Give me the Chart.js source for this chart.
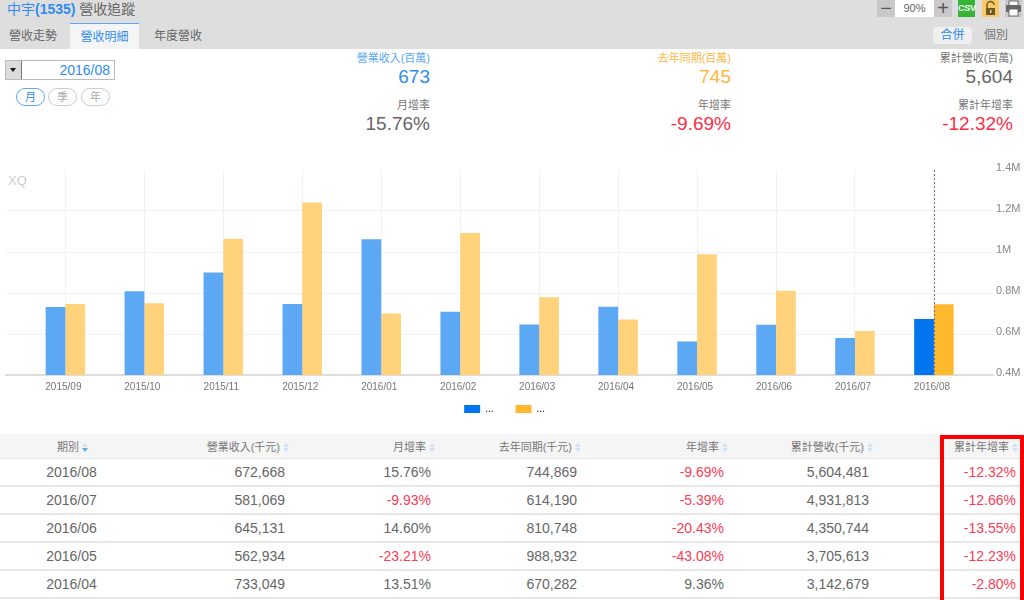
<!DOCTYPE html>
<html lang="zh-Hant">
<head>
<meta charset="UTF-8">
<title>中宇(1535) 營收追蹤</title>
<script src="https://cdn.jsdelivr.net/npm/chart.js"></script>
<style>
  html, body { margin: 0; padding: 0; background: #fff; width: 1024px; height: 600px; overflow: hidden; }
  body { font-family: "Liberation Sans", Arial, "Noto Sans CJK TC", sans-serif; color: #555; position: relative; }
  .abs { position: absolute; white-space: nowrap; }
  #head { left: 0; top: 0; width: 1024px; height: 49px; background: #dedede; }
  .tab { font-size: 12px; line-height: 26px; color: #666; }
  .tab.on { left: 70px; top: 23px; width: 69px; height: 25px; background: #f5f5f5; border-top: 1px solid #5ba8f5; color: #2f8cf0; text-align: center; }
  .btn { top: 0; height: 17px; line-height: 17px; text-align: center; font-size: 11px; }
  .pill { top: 88px; width: 27px; height: 16px; line-height: 16px; border: 1px solid #ccc; border-radius: 9px; text-align: center; font-size: 11px; color: #aaa; }
  .pill.on { border-color: #5ba8f5; color: #2f8cf0; }
  .kl { font-size: 11px; line-height: 14px; color: #777; text-align: right; }
  .kv { font-size: 19px; line-height: 24px; text-align: right; color: #666; }
  .red { color: #ff3b55 !important; }
  #wrap { left: 0; top: 150px; width: 1024px; height: 289px; }
  table { position: absolute; left: 0; top: 434px; width: 1024px; border-collapse: separate; border-spacing: 0; table-layout: fixed; background: #fff; }
  th { height: 24px; background: #f5f5f5; font-weight: normal; font-size: 11px; color: #777; text-align: right; padding: 0; border-bottom: 1px solid #e8e8e8; }
  td { height: 26px; font-size: 14px; color: #666; text-align: right; padding: 0 5px 0 0; border-bottom: 2px solid #e8e8e8; }
  th:first-child { padding-right: 54px; }
  th:last-child { padding-right: 5px; }
  td:first-child { text-align: center; padding-right: 0; }
  td:last-child { padding-right: 8px; }
  .sort { display: inline-block; width: 7px; height: 9px; margin-left: 3px; position: relative; vertical-align: -1px; }
  .sort::before, .sort::after { content: ""; position: absolute; left: 0; border-left: 3px solid transparent; border-right: 3px solid transparent; }
  .sort::before { top: 0; border-bottom: 4px solid #cfe2f6; }
  .sort::after { bottom: 0; border-top: 4px solid #cfe2f6; }
  .sort.active::after { border-top-color: #5ba8f5; }
  #frame { left: 940px; top: 435px; width: 76px; height: 170px; border: 4px solid #f00; }
</style>
</head>
<body>
<div id="head" class="abs"></div>
<div class="abs" style="left:7px;top:0;font-size:14px;line-height:18px;color:#666"><span style="color:#2f8cf0">中宇<b>(1535)</b></span> 營收追蹤</div>
<div class="abs tab" style="left:9px;top:23px">營收走勢</div>
<div class="abs tab on">營收明細</div>
<div class="abs tab" style="left:154px;top:23px">年度營收</div>

<div class="abs btn" style="left:877px;width:18px;background:#c9c9c9;font-size:20px;color:#555">&minus;</div>
<div class="abs btn" style="left:895px;width:39px;background:#fff;color:#666">90%</div>
<div class="abs btn" style="left:934px;width:18px;background:#c9c9c9;font-size:20px;color:#555">+</div>
<div class="abs btn" style="left:958px;width:17px;background:#35b535;color:#fff;font-size:9px;font-weight:bold;letter-spacing:-0.300px">CSV</div>
<div class="abs btn" style="left:982px;width:17px;background:#fbc867">
  <svg width="17" height="17"><path d="M5 8V5a3.500 3.500 0 0 1 7 0" fill="none" stroke="#6b5a2a" stroke-width="1.400"/><rect x="4" y="8" width="9" height="7" fill="#6b5a2a"/><rect x="8" y="10" width="1.500" height="3" fill="#fbc867"/></svg>
</div>
<div class="abs btn" style="left:1005px;width:17px;background:#c9c9c9">
  <svg width="17" height="17"><rect x="4" y="1" width="9" height="5" fill="#fff" stroke="#666"/><rect x="1" y="5" width="15" height="7" rx="1" fill="#666"/><rect x="4" y="9" width="9" height="7" fill="#fff" stroke="#666"/></svg>
</div>
<div class="abs" style="left:933px;top:27px;width:39px;height:17px;line-height:17px;background:#f0f0f0;border-radius:4px;text-align:center;font-size:12px;color:#2f8cf0">合併</div>
<div class="abs" style="left:984px;top:27px;height:17px;line-height:17px;font-size:12px;color:#777">個別</div>

<div class="abs" style="left:5px;top:60px;width:108px;height:18px;border:1px solid #bbb;line-height:18px;font-size:14px;color:#2f8cf0;text-align:right"><span style="padding-right:4px">2016/08</span></div>
<div class="abs" style="left:6px;top:61px;width:15px;height:18px;background:#dcdcdc;border-right:1px solid #777"></div>
<div class="abs" style="left:10px;top:68px;width:0;height:0;border-left:3px solid transparent;border-right:3px solid transparent;border-top:4px solid #111"></div>
<div class="abs pill on" style="left:16px">月</div>
<div class="abs pill" style="left:48px">季</div>
<div class="abs pill" style="left:81px">年</div>

<div id="kpis"></div>

<div id="wrap" class="abs"><canvas id="revenue-chart"></canvas></div>
<div class="abs" style="left:8px;top:173px;font-size:13px;color:#ccc">XQ</div>

<table id="detail"></table>
<div id="frame" class="abs"></div>

<script>
// monthly revenue in thousands, the last five come from the table
const months = ['2015/09', '2015/10', '2015/11', '2015/12', '2016/01', '2016/02', '2016/03', '2016/04', '2016/05', '2016/06', '2016/07', '2016/08'];
const revenue = [732000, 808000, 900000, 746000, 1062000, 709000, 645800, 733049, 562934, 645131, 581069, 672668];
const lastYear = [746000, 750000, 1065000, 1242000, 700000, 1093000, 779000, 670282, 988932, 810748, 614190, 744869];
const axisTicks = [400000, 600000, 800000, 1000000, 1200000, 1400000];

// table rows
const periods = ['2016/08', '2016/07', '2016/06', '2016/05', '2016/04'];
const monthRates = ['15.76%', '-9.93%', '14.60%', '-23.21%', '13.51%'];
const yearRates = ['-9.69%', '-5.39%', '-20.43%', '-43.08%', '9.36%'];
const cumulative = ['5,604,481', '4,931,813', '4,350,744', '3,705,613', '3,142,679'];
const cumulativeRates = ['-12.32%', '-12.66%', '-13.55%', '-12.23%', '-2.80%'];
const columns = ['期別', '營業收入(千元)', '月增率', '去年同期(千元)', '年增率', '累計營收(千元)', '累計年增率'];
const columnWidths = [143, 147, 146, 146, 147, 145, 150];

// summary figures
const kpiRows = [
  { right: 594, top: 51, label: '營業收入(百萬)', value: '673', color: '#2f8cf0', labelColor: '#5ba8f5' },
  { right: 293, top: 51, label: '去年同期(百萬)', value: '745', color: '#ffb83f', labelColor: '#ffb83f' },
  { right: 11, top: 51, label: '累計營收(百萬)', value: '5,604' },
  { right: 594, top: 98, label: '月增率', value: '15.76%' },
  { right: 293, top: 98, label: '年增率', value: '-9.69%', color: '#ff2d46' },
  { right: 11, top: 98, label: '累計年增率', value: '-12.32%', color: '#ff2d46' }
];

const kpis = document.getElementById('kpis');
kpiRows.forEach(k => {
  kpis.insertAdjacentHTML('beforeend',
    `<div class="abs kl" style="right:${k.right}px;top:${k.top}px;color:${k.labelColor || '#777'}">${k.label}</div>` +
    `<div class="abs kv" style="right:${k.right}px;top:${k.top + 14}px;color:${k.color || '#666'}">${k.value}</div>`);
});

// Build the table from the arrays
function rateCell(text) {
  return `<td${text.startsWith('-') ? ' class="red"' : ''}>${text}</td>`;
}
function money(v) {
  return v.toLocaleString('en-US');
}
let html = '<colgroup>' + columnWidths.map(w => `<col style="width:${w}px">`).join('') + '</colgroup><tr>';
columns.forEach((c, i) => {
  html += `<th>${c}<span class="sort${i === 0 ? ' active' : ''}"></span></th>`;
});
html += '</tr>';
periods.forEach((p, i) => {
  const m = months.indexOf(p);
  html += `<tr><td>${p}</td><td>${money(revenue[m])}</td>${rateCell(monthRates[i])}<td>${money(lastYear[m])}</td>` +
    `${rateCell(yearRates[i])}<td>${cumulative[i]}</td>${rateCell(cumulativeRates[i])}</tr>`;
});
document.getElementById('detail').innerHTML = html;

// Dashed marker over the selected month
const selected = months.length - 1;
const markerPlugin = {
  id: 'marker',
  afterDatasetsDraw(chart) {
    const { ctx, chartArea, scales } = chart;
    const x = Math.round(scales.x.getPixelForValue(selected)) + 0.5;
    ctx.save();
    ctx.strokeStyle = '#6f6f9a';
    ctx.setLineDash([2, 2]);
    ctx.beginPath();
    ctx.moveTo(x, chartArea.top);
    ctx.lineTo(x, chartArea.bottom);
    ctx.stroke();
    ctx.restore();
  }
};

// The legend sits closer to the axis and a bit left of the canvas centre
const legendShift = {
  id: 'legendShift',
  afterLayout(chart) {
    const legend = chart.legend;
    legend.top -= 15;
    legend.bottom -= 15;
    legend.left -= 21;
  }
};

function barColors(solid, faded) {
  return months.map((m, i) => i === selected ? solid : faded);
}

new Chart(document.getElementById('revenue-chart'), {
  type: 'bar',
  data: {
    datasets: [
      {
        label: '...',
        data: revenue.map((y, x) => ({ x, y })),
        backgroundColor: barColors('#0075ee', '#5ca8f5'),
        categoryPercentage: 0.5,
        barPercentage: 1
      },
      {
        label: '...',
        data: lastYear.map((y, x) => ({ x, y })),
        backgroundColor: barColors('#ffb92e', '#ffd27b'),
        categoryPercentage: 0.5,
        barPercentage: 1
      }
    ]
  },
  plugins: [markerPlugin, legendShift],
  options: {
    responsive: true,
    maintainAspectRatio: false,
    animation: false,
    layout: { padding: { left: 6, top: 20, bottom: 0 } },
    plugins: {
      tooltip: { enabled: false },
      legend: {
        position: 'bottom',
        onClick: null,
        labels: {
          boxWidth: 16,
          boxHeight: 8,
          color: '#888',
          padding: 22,
          font: { family: '"Liberation Sans", Arial', size: 10 },
          generateLabels: () => [
            { text: '...', fillStyle: '#0075ee', lineWidth: 0, strokeStyle: 'transparent' },
            { text: '...', fillStyle: '#ffb92e', lineWidth: 0, strokeStyle: 'transparent' }
          ]
        }
      }
    },
    scales: {
      x: {
        type: 'linear',
        offset: false,
        min: -0.752,
        max: 11.748,
        afterBuildTicks: scale => {
          scale.ticks = months.map((m, value) => ({ value }));
        },
        grid: { offset: false, color: '#f0f0f0', lineWidth: 1, drawTicks: false },
        border: { color: '#dddddd', width: 2 },
        ticks: {
          autoSkip: false,
          maxRotation: 0,
          padding: 6,
          labelOffset: -2,
          color: '#777',
          font: { family: '"Liberation Sans", Arial', size: 10 },
          callback: value => months[value]
        },
        afterFit: scale => { scale.height = 22; }
      },
      y: {
        position: 'right',
        min: axisTicks[0],
        max: axisTicks[axisTicks.length - 1],
        afterBuildTicks: scale => {
          scale.ticks = axisTicks.map(value => ({ value }));
        },
        grid: {
          drawTicks: false,
          lineWidth: 1,
          color: ctx => ctx.tick && ctx.tick.value === axisTicks[axisTicks.length - 1] ? 'transparent' : '#f2f2f2'
        },
        border: { display: false },
        ticks: {
          padding: 3,
          labelOffset: -2,
          color: '#888',
          font: { family: '"Liberation Sans", Arial', size: 11 },
          callback: value => value / 1000000 + 'M'
        },
        afterFit: scale => { scale.width = 31; }
      }
    }
  }
});
</script>
</body>
</html>
